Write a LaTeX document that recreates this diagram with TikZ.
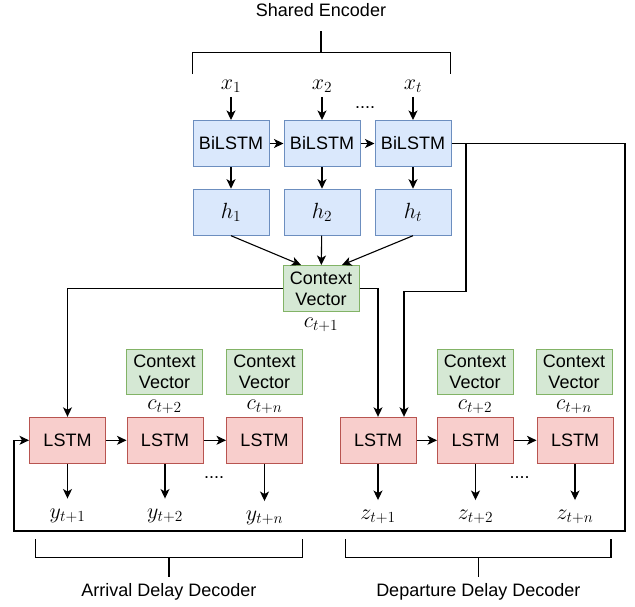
\RequirePackage{fix-cm}
\documentclass[tikz,border=0pt]{standalone}
\usepackage{fontspec}
\setmainfont{Liberation Sans}
\DeclareMathSizes{22}{22}{15.4}{11}
\usetikzlibrary{arrows.meta,calc}

\definecolor{encfill}{HTML}{DAE8FC}
\definecolor{encline}{HTML}{6C8EBF}
\definecolor{ctxfill}{HTML}{D5E8D4}
\definecolor{ctxline}{HTML}{82B366}
\definecolor{decfill}{HTML}{F8CECC}
\definecolor{decline}{HTML}{B85450}

\begin{document}
\begin{tikzpicture}[x=1pt,y=-1pt,
  font=\fontsize{18}{21}\selectfont,
  mathfont/.style={font=\fontsize{22}{26}\selectfont},
  box/.style={draw, line width=1pt, minimum width=76pt, minimum height=46pt,
              inner sep=0pt, align=center},
  enc/.style={box, fill=encfill, draw=encline},
  encsym/.style={enc, mathfont},
  ctx/.style={box, fill=ctxfill, draw=ctxline},
  ctxsmall/.style={ctx, minimum height=45pt},
  dec/.style={box, fill=decfill, draw=decline},
  sym/.style={inner sep=0pt, anchor=base, mathfont},
  insym/.style={sym, outer ysep=4pt},
  outsym/.style={sym, outer ysep=10pt},
  caption/.style={inner sep=0pt, anchor=base},
  ellipsis/.style={inner sep=0pt},
  link/.style={line width=1.1pt},
  arr/.style={link, -{Stealth[length=9.5pt,width=9pt,inset=2.5pt]}},
]
\useasboundingbox (0,0) rectangle (635,606);

% ---------- shared encoder ----------
\node[caption] (enctitle) at (321,16.7) {Shared Encoder};
\coordinate (encstemtop) at (321,30.7);
\coordinate (encstembot) at (321,52.3);
\draw[link] (192.3,74) -- (192.3,52.3) -- (450.5,52.3) -- (450.5,74);
\draw[link] (encstembot) -- (encstemtop);

\node[insym] (x1) at (231,89.5) {$x_1$};
\node[insym] (x2) at (322,89.5) {$x_2$};
\node[insym] (x3) at (413,89.5) {$x_t$};
\node[ellipsis] at (365,107.3) {....};

\node[enc] (b1) at (231,143.5) {BiLSTM};
\node[enc] (b2) at (322,143.5) {BiLSTM};
\node[enc] (b3) at (413,143.5) {BiLSTM};

\node[encsym] (h1) at (231,212.2) {\raisebox{-1.5pt}{$h_1$}};
\node[encsym] (h2) at (322,212.2) {\raisebox{-1.5pt}{$h_2$}};
\node[encsym] (h3) at (413,212.2) {\raisebox{-1.5pt}{$h_t$}};

\node[ctx] (cv) at (321,288.5) {Context\\Vector};
\node[sym] (c1) at (321,327.5) {$c_{t+1}$};

\foreach \i in {1,2,3} {
  \draw[arr] (x\i) -- (b\i);
  \draw[arr] (b\i) -- (h\i);
}
\draw[arr] (b1) -- (b2);
\draw[arr] (b2) -- (b3);
\draw[arr] (h1.south) -- ([xshift=-20pt]cv.north);
\draw[arr] (h2) -- (cv);
\draw[arr] (h3.south) -- ([xshift=21pt]cv.north);

% ---------- arrival delay decoder ----------
\node[ctxsmall] (cL2) at (164.5,371.7) {Context\\Vector};
\node[ctxsmall] (cL3) at (264.5,371.7) {Context\\Vector};
\node[sym] at (164.5,409.5) {$c_{t+2}$};
\node[sym] at (264.5,409.5) {$c_{t+n}$};

\node[dec] (L1) at (67.5,440.3) {LSTM};
\node[dec] (L2) at (165,440.3) {LSTM};
\node[dec] (L3) at (264.5,440.3) {LSTM};

\node[outsym] (y1) at (67.5,518) {$y_{t+1}$};
\node[outsym] (y2) at (165,518) {$y_{t+2}$};
\node[outsym] (y3) at (264.5,520.5) {$y_{t+n}$};
\node[ellipsis] at (214,477.3) {....};

% ---------- departure delay decoder ----------
\node[ctxsmall] (cR2) at (475,371.7) {Context\\Vector};
\node[ctxsmall] (cR3) at (574,371.7) {Context\\Vector};
\node[sym] at (475,409.5) {$c_{t+2}$};
\node[sym] at (574,409.5) {$c_{t+n}$};

\node[dec] (R1) at (378,440.3) {LSTM};
\node[dec] (R2) at (475.5,440.3) {LSTM};
\node[dec] (R3) at (575,440.3) {LSTM};

\node[outsym] (z1) at (378,519.5) {$z_{t+1}$};
\node[outsym] (z2) at (475.5,519.5) {$z_{t+2}$};
\node[outsym] (z3) at (575,519.5) {$z_{t+n}$};
\node[ellipsis] at (519.5,477.3) {....};

\foreach \i in {1,2,3} {
  \draw[arr] (L\i) -- (y\i);
  \draw[arr] (R\i) -- (z\i);
}
\draw[arr] (L1) -- (L2);
\draw[arr] (L2) -- (L3);
\draw[arr] (R1) -- (R2);
\draw[arr] (R2) -- (R3);

% context vector feeds both first decoder steps
\draw[arr] (cv.west) -| (L1.north);
\draw[arr] (cv.east) -| (R1.north);

% encoder state routed to both decoders
\coordinate (tap) at (466,143.5);
\coordinate (bend) at (404,291.5);
\coordinate (loopR) at (625,531);
\coordinate (loopL) at (14,531);
\draw[arr] (b3.east) -| (loopR) -- (loopL) |- (L1.west);
\draw[arr] (tap) |- (bend) -- (bend |- R1.north);

% ---------- decoder braces ----------
\draw[link] (35.7,539.3) -- (35.7,557.3) -- (302.3,557.3) -- (302.3,539.3);
\draw[link] (169,557.3) -- (169,576.7);
\node[caption] at (169,596.5) {Arrival Delay Decoder};

\draw[link] (345.7,539.3) -- (345.7,557.3) -- (611,557.3) -- (611,539.3);
\draw[link] (478.3,557.3) -- (478.3,576.7);
\node[caption] at (478.3,596.5) {Departure Delay Decoder};
\end{tikzpicture}
\end{document}
